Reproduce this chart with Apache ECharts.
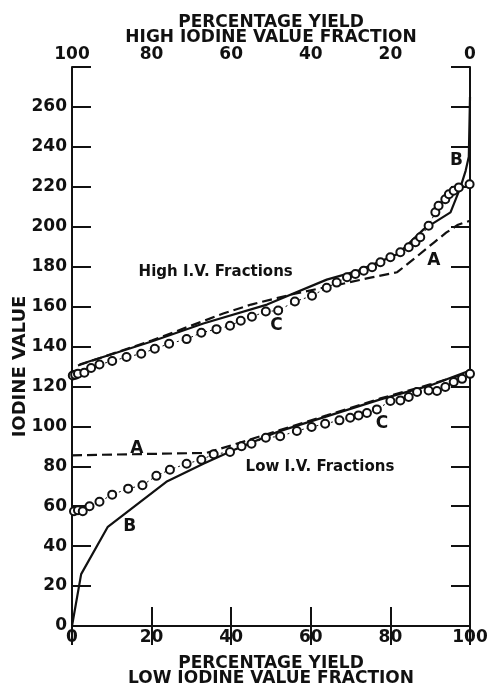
<!DOCTYPE html>
<html>
<head>
<meta charset="utf-8">
<title>Iodine value vs percentage yield</title>
<script src="https://cdn.jsdelivr.net/npm/echarts@6.0.0/dist/echarts.min.js"></script>
<style>
  html, body { margin: 0; padding: 0; background: #fff; }
  #chart { width: 487px; height: 690px; }
</style>
</head>
<body>
<div id="chart"></div>
<script>
// --- data ---
// High I.V. fractions, yield on the top axis (100 at left, 0 at right)
const highCYield = [99.8, 99.2, 98.5, 96.9, 95.2, 93.1, 89.9, 86.3, 82.6, 79.2, 75.6, 71.2, 67.5, 63.7, 60.3, 57.6, 54.8, 51.3, 48.2, 44.0, 39.7, 36.0, 33.5, 30.9, 28.8, 26.7, 24.6, 22.5, 20.0, 17.5, 15.4, 13.7, 12.5, 10.4, 8.7, 7.9, 6.2, 5.3, 4.1, 2.8, 0.1];
const highCIV    = [125.5, 125.8, 126.4, 126.9, 129.2, 131.0, 132.7, 134.7, 136.4, 138.9, 141.4, 143.7, 146.9, 148.7, 150.4, 152.9, 154.9, 157.5, 158.0, 162.5, 165.4, 169.4, 172.0, 174.7, 176.3, 178.0, 179.7, 182.2, 184.7, 187.2, 189.7, 192.2, 194.7, 200.5, 207.2, 210.5, 213.8, 216.3, 218.0, 219.7, 221.3];

const highBYield = [98.1, 80, 67, 51, 36, 28, 18, 11.6, 4.9, 2.4, 1.1, 0.3, 0];
const highBIV    = [131, 142.5, 151.5, 161, 173.5, 178, 186.5, 198.8, 207.2, 219.7, 228, 235, 265];

const highAYield = [98.5, 80, 62, 55, 45, 38, 34, 25, 18.3, 14, 9, 6, 3, 0];
const highAIV    = [130.5, 143, 156.5, 161, 166, 169, 170.5, 174.5, 177.2, 184, 192.2, 197, 201, 203];

// Low I.V. fractions, yield on the bottom axis
const lowCYield = [0.5, 1.5, 2.7, 4.4, 6.9, 10.1, 14.1, 17.7, 21.2, 24.6, 28.8, 32.5, 35.6, 39.7, 42.6, 45.1, 48.7, 52.3, 56.5, 60.2, 63.6, 67.2, 69.9, 72.0, 74.1, 76.6, 80.0, 82.5, 84.6, 86.7, 89.6, 91.7, 93.8, 95.9, 98.0, 100];
const lowCIV    = [57.5, 58.0, 57.5, 60.0, 62.2, 65.8, 68.8, 70.5, 75.2, 78.3, 81.3, 83.3, 86.0, 87.2, 90.0, 91.3, 94.3, 95.0, 97.7, 99.7, 101.3, 103.0, 104.3, 105.5, 106.7, 108.5, 112.7, 113.0, 114.7, 117.2, 118.0, 117.7, 119.7, 122.2, 123.8, 126.3];

const lowBYield = [0, 2.3, 9, 23.7, 33, 40.5, 52, 64, 77.5, 90, 100];
const lowBIV    = [0, 26, 49.7, 72.2, 81.3, 88, 97.5, 105, 113.5, 120.5, 128];

const lowAYield = [0, 33.8, 40, 52, 64, 77.5, 90, 100];
const lowAIV    = [85.5, 86.7, 90.5, 98, 105.5, 114, 121, 127];

// labelled iodine value ticks (axis runs on to 280 unlabelled)
const ivTicks = [0, 20, 40, 60, 80, 100, 120, 140, 160, 180, 200, 220, 240, 260];

// curve annotations: [yield, iodine value, text]
const highNotes = [[63.9, 177.5, 'High I.V. Fractions'], [48.6, 150.5, 'C'], [9.1, 183, 'A'], [3.4, 233, 'B']];
const lowNotes  = [[62.3, 79.5, 'Low I.V. Fractions'], [77.9, 101.3, 'C'], [16.3, 89, 'A'], [14.5, 49.7, 'B']];

const FONT = 'DejaVu Sans';
const INK = '#111';

function zip(xs, ys) {
    return xs.map((x, i) => [x, ys[i]]);
}

// Notes are drawn as invisible mark points so they sit in data space
function notes(list) {
    return {
        symbol: 'circle',
        symbolSize: 0,
        silent: true,
        data: list.map(n => ({
            coord: [n[0], n[1]],
            label: {
                show: true,
                position: 'inside',
                formatter: n[2],
                color: INK,
                fontFamily: FONT,
                fontWeight: 'bold',
                fontSize: n[2].length > 1 ? 15 : 17
            }
        }))
    };
}

function circles(name, xIndex, data) {
    return {
        name: name,
        type: 'line',
        xAxisIndex: xIndex,
        data: data,
        symbol: 'emptyCircle',
        symbolSize: 8,
        itemStyle: { color: INK, borderWidth: 1.8 },
        lineStyle: { color: INK, width: 1, type: [2, 3] },
        z: 3
    };
}

function curve(name, xIndex, data, dashed, extra) {
    return Object.assign({
        name: name,
        type: 'line',
        xAxisIndex: xIndex,
        data: data,
        showSymbol: false,
        lineStyle: { color: INK, width: 2.2, type: dashed ? [10, 5] : 'solid' },
        z: 2
    }, extra || {});
}

const tickLabel = { color: INK, fontFamily: FONT, fontWeight: 'bold', fontSize: 17 };
const titleText = { color: INK, fontFamily: FONT, fontWeight: 'bold', fontSize: 17, lineHeight: 15 };
const axisLine = { show: true, lineStyle: { color: INK, width: 2 } };
const innerTick = { show: true, inside: true, length: 19, lineStyle: { color: INK, width: 2 } };

const option = {
    animation: false,
    backgroundColor: '#fff',
    grid: { left: 72, right: 17, top: 67, bottom: 64, containLabel: false, outerBoundsMode: 'none' },
    xAxis: [
        {
            type: 'value', position: 'bottom', min: 0, max: 100, interval: 20,
            name: 'PERCENTAGE YIELD\nLOW IODINE VALUE FRACTION',
            nameLocation: 'middle', nameGap: 30, nameMoveOverlap: false,
            nameTextStyle: titleText,
            axisLine: axisLine, axisTick: innerTick, splitLine: { show: false },
            axisLabel: Object.assign({ margin: 3 }, tickLabel)
        },
        {
            type: 'value', position: 'top', inverse: true, min: 0, max: 100, interval: 20,
            name: 'PERCENTAGE YIELD\nHIGH IODINE VALUE FRACTION',
            nameLocation: 'middle', nameGap: 22, nameMoveOverlap: false,
            nameTextStyle: titleText,
            axisLine: axisLine, axisTick: innerTick, splitLine: { show: false },
            axisLabel: Object.assign({ margin: 4 }, tickLabel)
        }
    ],
    yAxis: [
        {
            type: 'value', position: 'left', min: 0, max: 280, interval: 20,
            name: 'IODINE VALUE',
            nameLocation: 'middle', nameGap: 43, nameRotate: 90, nameMoveOverlap: false,
            nameTextStyle: { color: INK, fontFamily: FONT, fontWeight: 'bold', fontSize: 18, padding: [0, 40, 0, 0] },
            axisLine: axisLine, axisTick: innerTick, splitLine: { show: false },
            axisLabel: Object.assign({ margin: 5, formatter: v => (ivTicks.indexOf(v) >= 0 ? String(v) : '') }, tickLabel)
        },
        {
            type: 'value', position: 'right', min: 0, max: 280, interval: 20,
            axisLine: axisLine, axisTick: innerTick, splitLine: { show: false },
            axisLabel: { show: false }
        }
    ],
    series: [
        circles('High C', 1, zip(highCYield, highCIV)),
        curve('High B', 1, zip(highBYield, highBIV), false, { markPoint: notes(highNotes) }),
        curve('High A', 1, zip(highAYield, highAIV), true),
        circles('Low C', 0, zip(lowCYield, lowCIV)),
        curve('Low B', 0, zip(lowBYield, lowBIV), false, { markPoint: notes(lowNotes) }),
        curve('Low A', 0, zip(lowAYield, lowAIV), true)
    ]
};

const chart = echarts.init(document.getElementById('chart'));
chart.setOption(option);
</script>
</body>
</html>
